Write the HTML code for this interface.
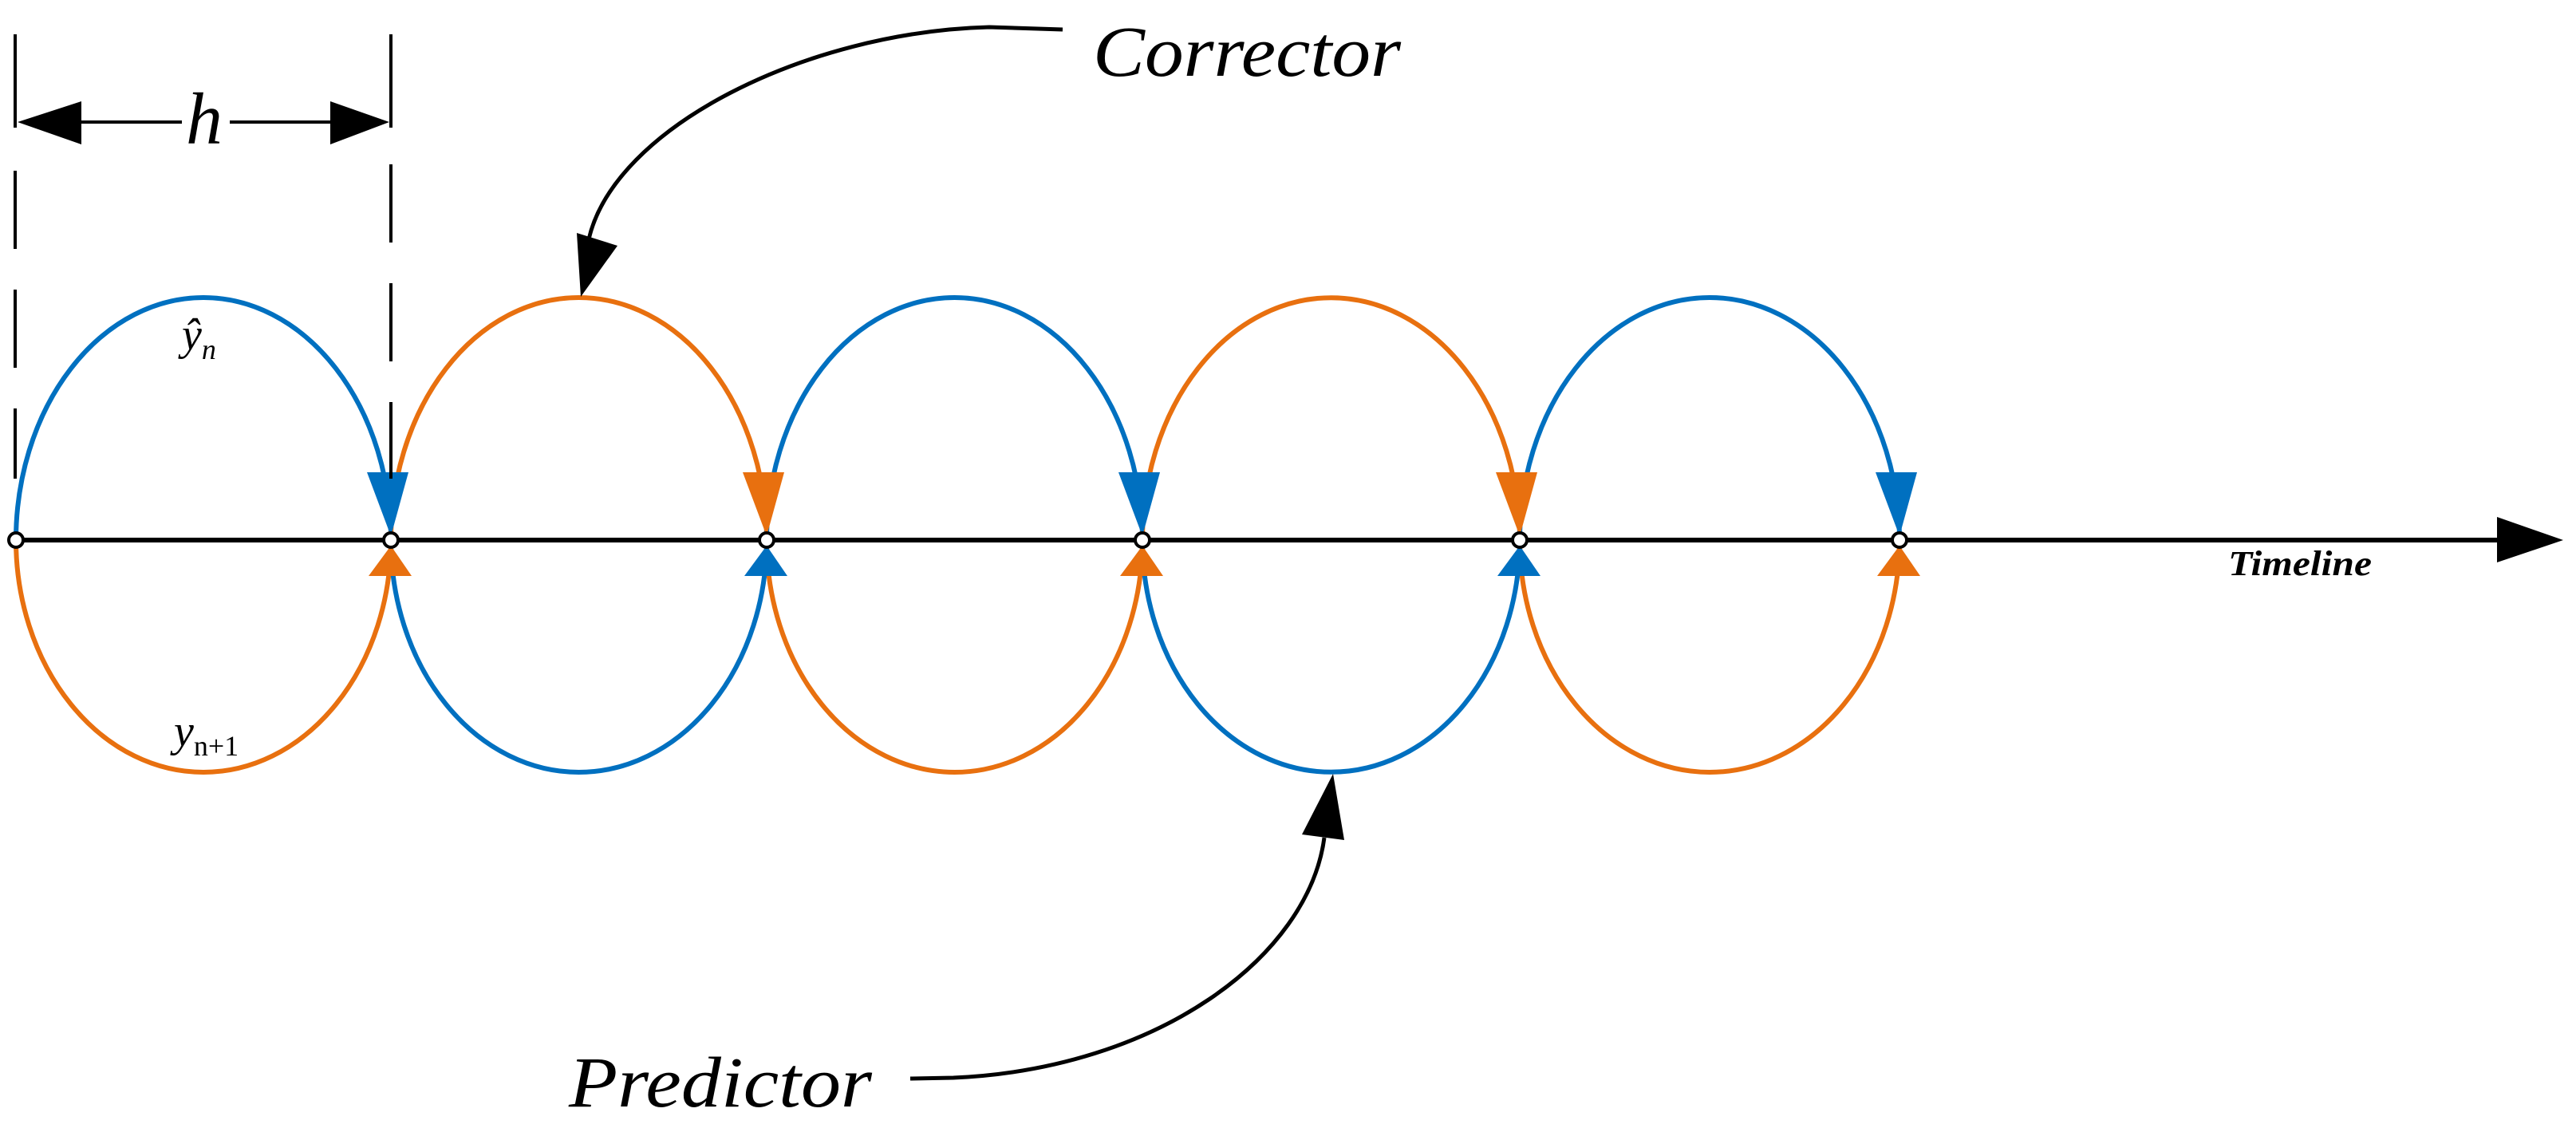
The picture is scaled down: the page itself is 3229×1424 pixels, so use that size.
<!DOCTYPE html>
<html><head><meta charset="utf-8"><style>html,body{margin:0;padding:0;background:#fff}svg{display:block}</style></head>
<body>
<svg width="3229" height="1424" viewBox="0 0 3229 1424" xmlns="http://www.w3.org/2000/svg">
<g fill="none" stroke-width="6">
<path d="M20 677 A235 304 0 0 1 490 677" stroke="#0070c0"/>
<path d="M490 677 A235.5 304 0 0 1 961 677" stroke="#e8700f"/>
<path d="M961 677 A235.5 304 0 0 1 1432 677" stroke="#0070c0"/>
<path d="M1432 677 A236.5 304 0 0 1 1905 677" stroke="#e8700f"/>
<path d="M1905 677 A238 304 0 0 1 2381 677" stroke="#0070c0"/>
<path d="M20 677 A235 291 0 0 0 490 677" stroke="#e8700f"/>
<path d="M490 677 A235.5 291 0 0 0 961 677" stroke="#0070c0"/>
<path d="M961 677 A235.5 291 0 0 0 1432 677" stroke="#e8700f"/>
<path d="M1432 677 A236.5 291 0 0 0 1905 677" stroke="#0070c0"/>
<path d="M1905 677 A238 291 0 0 0 2381 677" stroke="#e8700f"/>
</g>
<!-- upper arrowheads -->
<g>
<polygon points="460,592 512,592 490,672" fill="#0070c0"/>
<polygon points="931,592 983,592 961,672" fill="#e8700f"/>
<polygon points="1402,592 1454,592 1432,672" fill="#0070c0"/>
<polygon points="1875,592 1927,592 1905,672" fill="#e8700f"/>
<polygon points="2351,592 2403,592 2381,672" fill="#0070c0"/>
<polygon points="462,722 516,722 490,684" fill="#e8700f"/>
<polygon points="933,722 987,722 961,684" fill="#0070c0"/>
<polygon points="1404,722 1458,722 1432,684" fill="#e8700f"/>
<polygon points="1877,722 1931,722 1905,684" fill="#0070c0"/>
<polygon points="2353,722 2407,722 2381,684" fill="#e8700f"/>
</g>
<!-- axis -->
<line x1="20" y1="677" x2="3140" y2="677" stroke="#000" stroke-width="6"/>
<polygon points="3130,648 3213,677 3130,705" fill="#000"/>
<g fill="#fff" stroke="#000" stroke-width="4">
<circle cx="20" cy="677" r="9"/><circle cx="490" cy="677" r="9"/><circle cx="961" cy="677" r="9"/>
<circle cx="1432" cy="677" r="9"/><circle cx="1905" cy="677" r="9"/><circle cx="2381" cy="677" r="9"/>
</g>
<!-- dashed lines -->
<g stroke="#000" stroke-width="4">
<line x1="19" y1="43" x2="19" y2="160"/><line x1="490" y1="43" x2="490" y2="160"/>
<line x1="19" y1="214" x2="19" y2="600" stroke-dasharray="98 51"/>
<line x1="490" y1="206" x2="490" y2="600" stroke-dasharray="98 51"/>
<line x1="60" y1="153" x2="450" y2="153"/>
</g>
<polygon points="22,153 102,127 102,181" fill="#000"/>
<polygon points="488,153 414,127 414,181" fill="#000"/>
<rect x="228" y="130" width="60" height="40" fill="#fff"/>
<text x="256" y="180" font-family="Liberation Serif, serif" font-style="italic" font-size="92" text-anchor="middle">h</text>
<text x="228" y="438" font-family="Liberation Serif, serif" font-style="italic" font-size="56">ŷ<tspan font-size="36" dy="12">n</tspan></text>
<text x="218" y="935" font-family="Liberation Serif, serif" font-style="italic" font-size="56">y<tspan font-size="36" dy="12" font-style="normal">n+1</tspan></text>
<!-- corrector -->
<path d="M1332 37 L1240 34 C1010 40 770 160 738 300" fill="none" stroke="#000" stroke-width="5"/>
<polygon points="723,292 774,308 728,372" fill="#000"/>
<text x="1370" y="95" font-family="Liberation Serif, serif" font-style="italic" font-size="90" textLength="386" lengthAdjust="spacingAndGlyphs">Corrector</text>
<!-- predictor -->
<path d="M1141 1352 L1195 1351 C1450 1340 1640 1200 1660 1050" fill="none" stroke="#000" stroke-width="5"/>
<polygon points="1632,1046 1685,1053 1671,970" fill="#000"/>
<text x="713" y="1387" font-family="Liberation Serif, serif" font-style="italic" font-size="90" textLength="380" lengthAdjust="spacingAndGlyphs">Predictor</text>
<text x="2793" y="721" font-family="Liberation Serif, serif" font-style="italic" font-weight="bold" font-size="44" textLength="180" lengthAdjust="spacingAndGlyphs">Timeline</text>
</svg>
</body></html>
